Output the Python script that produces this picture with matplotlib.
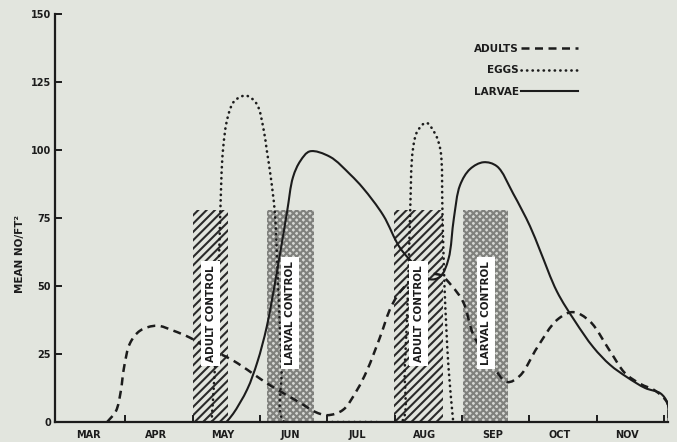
import numpy as np
import matplotlib
matplotlib.use("Agg")
import matplotlib.pyplot as plt
from matplotlib.path import Path
from matplotlib.patches import PathPatch, Rectangle
from matplotlib.lines import Line2D

# ---- data (x in months since 1 March, y = mean no./ft^2) ----
months = ["MAR", "APR", "MAY", "JUN", "JUL", "AUG", "SEP", "OCT", "NOV"]
y_ticks = [0, 25, 50, 75, 100, 125, 150]

adults_x = [0.73, 0.86, 0.93, 0.98, 1.07, 1.22, 1.47, 1.71, 1.96, 2.21, 2.60, 3.15,
            3.60, 3.82, 4.00, 4.23, 4.44, 4.59, 4.78, 4.96, 5.16, 5.45, 5.68, 5.85,
            6.02, 6.17, 6.42, 6.67, 6.86, 7.12, 7.41, 7.65, 7.90, 8.20, 8.42, 8.65,
            8.87, 9.05, 9.07]
adults_y = [0, 4, 11, 20, 29, 33.6, 35.4, 33.6, 31, 27.4, 22.6, 13.5,
            7, 3.7, 2.5, 4.4, 11.7, 19, 31, 43, 50, 54, 54, 50,
            44, 32, 22, 14.7, 17, 27.5, 37.5, 40.4, 37, 26, 18, 14,
            11.5, 7, 0]

eggs_x = [2.28, 2.33, 2.38, 2.41, 2.45, 2.52, 2.62, 2.79, 2.95, 3.05, 3.10, 3.16, 3.22,
          3.27, 3.32, 3.36, 4.00, 4.70, 5.10, 5.15, 5.20, 5.23, 5.27, 5.34, 5.47,
          5.60, 5.68, 5.71, 5.74, 5.80, 5.87]
eggs_y = [0, 20, 50, 77, 100, 112, 118, 120, 117, 108, 100, 90, 77,
          50, 20, 0, 0, 0, 0, 20, 50, 77, 100, 107, 110,
          106, 100, 77, 50, 20, 0]

larvae_x = [2.50, 2.60, 2.81, 2.96, 3.10, 3.25, 3.40, 3.49, 3.60, 3.74, 4.04, 4.34,
            4.53, 4.83, 5.08, 5.33, 5.52, 5.68, 5.80, 5.88, 5.97, 6.12, 6.32, 6.52,
            6.76, 7.01, 7.16, 7.41, 7.68, 7.95, 8.20, 8.45, 8.72, 8.95, 9.05, 9.07]
larvae_y = [0, 3, 12, 22, 35, 55, 77, 90, 96, 99.5, 97.5, 91,
            86, 76, 64, 57, 52.5, 53.5, 60, 75, 87, 93, 95.5, 94,
            84, 72, 63, 48, 37, 27.5, 21, 16.5, 12.5, 10.5, 7, 0]

adult_ctrl_start = [2.00, 4.99]
adult_ctrl_end = [2.53, 5.72]
larval_ctrl_start = [3.10, 6.02]
larval_ctrl_end = [3.80, 6.69]
ctrl_height = 78

legend_labels = ["ADULTS", "EGGS", "LARVAE"]

# ---- style ----
BG = "#e2e5de"
INK = "#1c1c1c"
plt.rcParams["font.family"] = ["DejaVu Sans"]
plt.rcParams["hatch.linewidth"] = 1.5

fig = plt.figure(figsize=(6.77, 4.42), dpi=100, facecolor=BG)
ax = fig.add_axes([55 / 677, 20 / 442, (668 - 55) / 677, (422 - 14) / 442])
ax.set_facecolor(BG)
ax.set_xlim(-0.045, 9.06)
ax.set_ylim(0, 150)

SX, SY = 67.3, 2.72  # approximate pixel scale, used only for curve smoothing


def smooth_path(xs, ys, alpha=0.5):
    """Centripetal Catmull-Rom through the points, rendered as cubic Bezier path."""
    P = np.column_stack([np.asarray(xs) * SX, np.asarray(ys) * SY]).astype(float)
    n = len(P)
    ext = np.vstack([2 * P[0] - P[1], P, 2 * P[-1] - P[-2]])
    d = np.linalg.norm(np.diff(ext, axis=0), axis=1) ** alpha
    d[d < 1e-6] = 1e-6
    t = np.concatenate([[0], np.cumsum(d)])
    verts = [P[0]]
    codes = [Path.MOVETO]
    for i in range(1, n):
        p0, p1, p2, p3 = ext[i - 1], ext[i], ext[i + 1], ext[i + 2]
        t0, t1, t2, t3 = t[i - 1], t[i], t[i + 1], t[i + 2]
        m1 = (t2 - t1) * ((p1 - p0) / (t1 - t0) - (p2 - p0) / (t2 - t0) + (p2 - p1) / (t2 - t1))
        m2 = (t2 - t1) * ((p2 - p1) / (t2 - t1) - (p3 - p1) / (t3 - t1) + (p3 - p2) / (t3 - t2))
        verts += [p1 + m1 / 3, p2 - m2 / 3, p2]
        codes += [Path.CURVE4] * 3
    V = np.array(verts)
    V[:, 0] /= SX
    V[:, 1] /= SY
    return Path(V, codes)


# control bars
for s, e in zip(adult_ctrl_start, adult_ctrl_end):
    ax.add_patch(Rectangle((s, 0), e - s, ctrl_height, facecolor=BG, edgecolor="#2a2a2a",
                           hatch="////", linewidth=0, zorder=1))
    ax.text((s + e) / 2, 40, "ADULT CONTROL", rotation=90, ha="center", va="center",
            fontsize=7.5, fontweight="bold", color=INK, zorder=5,
            bbox=dict(boxstyle="square,pad=0.4", facecolor="white", edgecolor="none"))
for s, e in zip(larval_ctrl_start, larval_ctrl_end):
    ax.add_patch(Rectangle((s, 0), e - s, ctrl_height, facecolor="#d6d7d3", edgecolor="#80817d",
                           hatch="xxxxx", linewidth=0, zorder=1))
    ax.text((s + e) / 2, 40, "LARVAL CONTROL", rotation=90, ha="center", va="center",
            fontsize=7.5, fontweight="bold", color=INK, zorder=5,
            bbox=dict(boxstyle="square,pad=0.4", facecolor="white", edgecolor="none"))

ADULT_DASH = (0, (3.2, 2.2))
EGG_DOT = (0, (0.1, 2.0))

# curves
ax.add_patch(PathPatch(smooth_path(adults_x, adults_y), facecolor="none", edgecolor=INK,
                       linewidth=1.8, linestyle=ADULT_DASH, capstyle="butt", zorder=3))
ax.add_patch(PathPatch(smooth_path(eggs_x, eggs_y), facecolor="none", edgecolor=INK,
                       linewidth=1.9, linestyle=EGG_DOT, capstyle="round", zorder=3))
ax.add_patch(PathPatch(smooth_path(larvae_x, larvae_y), facecolor="none", edgecolor=INK,
                       linewidth=1.5, linestyle="-", zorder=4))

# axes
for side in ["top", "right"]:
    ax.spines[side].set_visible(False)
for side in ["left", "bottom"]:
    ax.spines[side].set_linewidth(1.6)
    ax.spines[side].set_color(INK)
ax.set_yticks(y_ticks)
ax.set_yticklabels([str(v) for v in y_ticks], fontsize=7, fontweight="bold", color=INK)
ax.tick_params(axis="y", direction="in", length=5, width=1.4, pad=3, colors=INK)
ax.set_xticks(range(1, len(months) + 1))
ax.set_xticklabels([])
ax.tick_params(axis="x", which="major", direction="in", length=5, width=1.4, colors=INK)
ax.set_xticks([i + 0.45 for i in range(len(months))], minor=True)
ax.set_xticklabels(months, minor=True, fontsize=7, fontweight="bold", color=INK)
ax.tick_params(axis="x", which="minor", length=0, pad=6)

fig.text(20 / 677, 1 - 254 / 442, "MEAN NO/FT²", rotation=90, ha="center", va="center",
         fontsize=7.5, fontweight="bold", color=INK)

handles = [Line2D([], [], color=INK, lw=1.8, linestyle=ADULT_DASH),
           Line2D([], [], color=INK, lw=1.9, linestyle=EGG_DOT, dash_capstyle="round"),
           Line2D([], [], color=INK, lw=1.5)]
leg = fig.legend(handles, legend_labels, loc="upper right", bbox_to_anchor=(578 / 677, 1 - 44 / 442),
                 markerfirst=False, frameon=False, handlelength=5.5, handletextpad=0.2,
                 labelspacing=1.1, borderpad=0, borderaxespad=0,
                 prop=dict(size=7.5, weight="bold"))
for t in leg.get_texts():
    t.set_color(INK)

fig.savefig("out.png", dpi=100, facecolor=BG)
